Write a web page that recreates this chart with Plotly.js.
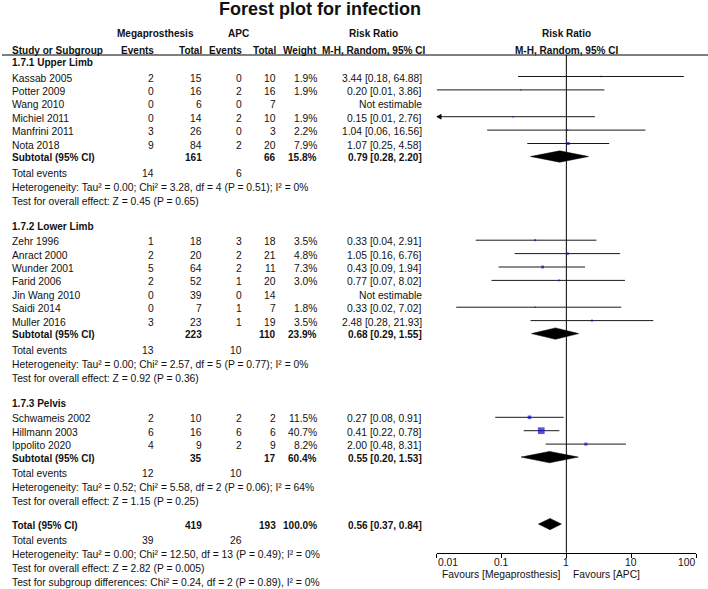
<!DOCTYPE html>
<html>
<head>
<meta charset="utf-8">
<script src="https://cdn.plot.ly/plotly-3.0.1.min.js"></script>
<style>html,body{margin:0;padding:0;background:#fff;}#chart{width:708px;height:589px;}</style>
</head>
<body>
<div id="chart"></div>
<script>
// ---------------- DATA ----------------
const chartTitle = "Forest plot for infection";
const groupNames = ["1.7.1 Upper Limb", "1.7.2 Lower Limb", "1.7.3 Pelvis"];
const studyGroup = [0, 0, 0, 0, 0, 0, 1, 1, 1, 1, 1, 1, 1, 2, 2, 2];
const studyNames = ["Kassab 2005", "Potter 2009", "Wang 2010", "Michiel 2011", "Manfrini 2011", "Nota 2018",
  "Zehr 1996", "Anract 2000", "Wunder 2001", "Farid 2006", "Jin Wang 2010", "Saidi 2014", "Muller 2016",
  "Schwameis 2002", "Hillmann 2003", "Ippolito 2020"];
const megEvents = [2, 0, 0, 0, 3, 9, 1, 2, 5, 2, 0, 0, 3, 2, 6, 4];
const megTotal = [15, 16, 6, 14, 26, 84, 18, 20, 64, 52, 39, 7, 23, 10, 16, 9];
const apcEvents = [0, 2, 0, 2, 0, 2, 3, 2, 2, 1, 0, 1, 1, 2, 6, 2];
const apcTotal = [10, 16, 7, 10, 3, 20, 18, 21, 11, 20, 14, 7, 19, 2, 6, 9];
const weights = [1.9, 1.9, null, 1.9, 2.2, 7.9, 3.5, 4.8, 7.3, 3.0, null, 1.8, 3.5, 11.5, 40.7, 8.2];
const riskRatio = [3.44, 0.20, null, 0.15, 1.04, 1.07, 0.33, 1.05, 0.43, 0.77, null, 0.33, 2.48, 0.27, 0.41, 2.00];
const ciLow = [0.18, 0.01, null, 0.01, 0.06, 0.25, 0.04, 0.16, 0.09, 0.07, null, 0.02, 0.28, 0.08, 0.22, 0.48];
const ciHigh = [64.88, 3.86, null, 2.76, 16.56, 4.58, 2.91, 6.76, 1.94, 8.02, null, 7.02, 21.93, 0.91, 0.78, 8.31];
const truncatedLow = ["Michiel 2011"];

const subMegTotal = [161, 223, 35];
const subApcTotal = [66, 110, 17];
const subWeight = [15.8, 23.9, 60.4];
const subRR = [0.79, 0.68, 0.55];
const subLow = [0.28, 0.29, 0.20];
const subHigh = [2.20, 1.55, 1.53];
const subMegEvents = [14, 13, 12];
const subApcEvents = [6, 10, 10];
const subHeterogeneity = [
  "Heterogeneity: Tau² = 0.00; Chi² = 3.28, df = 4 (P = 0.51); I² = 0%",
  "Heterogeneity: Tau² = 0.00; Chi² = 2.57, df = 5 (P = 0.77); I² = 0%",
  "Heterogeneity: Tau² = 0.52; Chi² = 5.58, df = 2 (P = 0.06); I² = 64%"];
const subEffect = [
  "Test for overall effect: Z = 0.45 (P = 0.65)",
  "Test for overall effect: Z = 0.92 (P = 0.36)",
  "Test for overall effect: Z = 1.15 (P = 0.25)"];

const totalValues = [419, 193];          // Megaprosthesis total, APC total
const totalEventValues = [39, 26];       // Megaprosthesis events, APC events
const totalWeight = [100.0];
const totalEstimate = [0.56, 0.37, 0.84]; // RR, low, high
const totalTexts = [
  "Heterogeneity: Tau² = 0.00; Chi² = 12.50, df = 13 (P = 0.49); I² = 0%",
  "Test for overall effect: Z = 2.82 (P = 0.005)",
  "Test for subgroup differences: Chi² = 0.24, df = 2 (P = 0.89), I² = 0%"];

const tickValues = [0.01, 0.1, 1, 10, 100];
const tickLabels = ["0.01", "0.1", "1", "10", "100"];
const favoursLabels = ["Favours [Megaprosthesis]", "Favours [APC]"];
const nullValue = 1;

// ---------------- LAYOUT HELPERS ----------------
const W = 708, H = 589;
const FONT = "Liberation Sans, Arial, Helvetica, sans-serif";
const FS = 10.3, FS_BOLD = 10.05;
const TXT = "#111";
const AX_L = 436.7, AX_R = 696, AX_Y = 552.7;
const COL = {name: 11, megEv: 155, megTot: 203.3, apcEv: 243.3, apcTot: 277, weight: 318.3, rr: 423.3, rrHead: 373, plotHead: 566.3, meg: 155.8, apc: 238.3};
const MARK_DY = -1.5;

// vertical positions
const rowY = [], headerY = [], subY = [], teY = [], hetY = [], testY = [];
let y = 62.5;
for (let g = 0; g < groupNames.length; g++) {
  if (g > 0) y += 25.2;
  headerY[g] = y;
  y += 15.5;
  const idx = studyGroup.map((v, i) => v === g ? i : -1).filter(i => i >= 0);
  idx.forEach((i, k) => { rowY[i] = y; if (k < idx.length - 1) y += 13.4; });
  y += 12.5; subY[g] = y;
  y += 15.5; teY[g] = y;
  y += 14; hetY[g] = y;
  y += 14; testY[g] = y;
}
y += 23.5; const totalY = y;
const totalTeY = totalY + 15.5, totalHetY = totalTeY + 13.5, totalTestY = totalHetY + 14, totalSubY = totalTestY + 14;

const ann = [];
function txt(str, px, py, anchor, bold, size) {
  const pad = anchor === 'right' ? 1 : (anchor === 'left' ? -1 : 0);
  ann.push({text: bold ? '<b>' + str + '</b>' : str, xref: 'paper', yref: 'paper',
    x: (px + pad) / W, y: 1 - py / H, xanchor: anchor, yanchor: 'middle', showarrow: false,
    font: {family: FONT, size: size || (bold ? FS_BOLD : FS), color: TXT}});
}
const f2 = v => v.toFixed(2);
const ciText = (r, l, h) => f2(r) + " [" + f2(l) + ", " + f2(h) + "]";

// header
txt("Megaprosthesis", COL.meg, 34, 'center', true);
txt("APC", COL.apc, 34, 'center', true);
txt("Risk Ratio", COL.rrHead, 34, 'center', true);
txt("Risk Ratio", COL.plotHead, 34, 'center', true);
txt("Study or Subgroup", COL.name, 50, 'left', true);
txt("Events", COL.megEv, 50, 'right', true);
txt("Total", COL.megTot, 50, 'right', true);
txt("Events", COL.apcEv, 50, 'right', true);
txt("Total", COL.apcTot, 50, 'right', true);
txt("Weight", COL.weight, 50, 'right', true);
txt("M-H, Random, 95% CI", COL.rrHead, 50, 'center', true);
txt("M-H, Random, 95% CI", COL.plotHead, 50, 'center', true);

groupNames.forEach((gName, g) => {
  txt(gName, COL.name, headerY[g], 'left', true);
  txt("Subtotal (95% CI)", COL.name, subY[g], 'left', true);
  txt(String(subMegTotal[g]), COL.megTot, subY[g], 'right', true);
  txt(String(subApcTotal[g]), COL.apcTot, subY[g], 'right', true);
  txt(subWeight[g].toFixed(1) + "%", COL.weight, subY[g], 'right', true);
  txt(ciText(subRR[g], subLow[g], subHigh[g]), COL.rr, subY[g], 'right', true);
  txt("Total events", COL.name, teY[g], 'left', false);
  txt(String(subMegEvents[g]), COL.megEv, teY[g], 'right', false);
  txt(String(subApcEvents[g]), COL.apcEv, teY[g], 'right', false);
  txt(subHeterogeneity[g], COL.name, hetY[g], 'left', false);
  txt(subEffect[g], COL.name, testY[g], 'left', false);
});

studyNames.forEach((s, i) => {
  const yy = rowY[i];
  txt(s, COL.name, yy, 'left');
  txt(String(megEvents[i]), COL.megEv, yy, 'right');
  txt(String(megTotal[i]), COL.megTot, yy, 'right');
  txt(String(apcEvents[i]), COL.apcEv, yy, 'right');
  txt(String(apcTotal[i]), COL.apcTot, yy, 'right');
  if (weights[i] !== null) txt(weights[i].toFixed(1) + "%", COL.weight, yy, 'right');
  txt(riskRatio[i] === null ? "Not estimable" : ciText(riskRatio[i], ciLow[i], ciHigh[i]), COL.rr, yy, 'right');
});

txt("Total (95% CI)", COL.name, totalY, 'left', true);
txt(String(totalValues[0]), COL.megTot, totalY, 'right', true);
txt(String(totalValues[1]), COL.apcTot, totalY, 'right', true);
txt(totalWeight[0].toFixed(1) + "%", COL.weight, totalY, 'right', true);
txt(ciText(totalEstimate[0], totalEstimate[1], totalEstimate[2]), COL.rr, totalY, 'right', true);
txt("Total events", COL.name, totalTeY, 'left');
txt(String(totalEventValues[0]), COL.megEv, totalTeY, 'right');
txt(String(totalEventValues[1]), COL.apcEv, totalTeY, 'right');
txt(totalTexts[0], COL.name, totalHetY, 'left');
txt(totalTexts[1], COL.name, totalTestY, 'left');
txt(totalTexts[2], COL.name, totalSubY, 'left');

// tick labels (through the x axis scale)
tickValues.forEach((v, k) => {
  ann.push({text: tickLabels[k], xref: 'x', yref: 'paper', x: Math.log10(v), y: 1 - 562.3 / H,
    xanchor: k === 0 ? 'left' : (k === tickValues.length - 1 ? 'right' : 'center'), xshift: k === 0 ? -1 : (k === tickValues.length - 1 ? 1 : 0),
    yanchor: 'middle', showarrow: false, font: {family: FONT, size: FS, color: TXT}});
});
txt(favoursLabels[0], 562, 574, 'right');
txt(favoursLabels[1], 571.7, 574, 'left');

// ---------------- TRACES ----------------
const traces = [];
// null line
traces.push({type: 'scatter', mode: 'lines', x: [nullValue, nullValue], y: [55, AX_Y],
  line: {color: '#000', width: 1}, hoverinfo: 'skip'});
// CI lines
const cx = [], cy = [];
studyNames.forEach((s, i) => {
  if (riskRatio[i] === null) return;
  cx.push(ciLow[i], ciHigh[i], null);
  cy.push(rowY[i] + MARK_DY, rowY[i] + MARK_DY, null);
});
traces.push({type: 'scatter', mode: 'lines', x: cx, y: cy, line: {color: '#1a1a1a', width: 1}, hoverinfo: 'skip'});
// truncated arrows
const pxPerDecade = (AX_R - AX_L) / 4;
const ax_ = [], ay_ = [];
studyNames.forEach((s, i) => {
  if (truncatedLow.indexOf(s) < 0) return;
  const tip = ciLow[i], base = tip * Math.pow(10, 4.5 / pxPerDecade), yy = rowY[i] + MARK_DY;
  ax_.push(tip, base, base, tip, null);
  ay_.push(yy, yy - 2.5, yy + 2.5, yy, null);
});
traces.push({type: 'scatter', mode: 'lines', x: ax_, y: ay_, fill: 'toself', fillcolor: '#000',
  line: {color: '#000', width: 0.5}, hoverinfo: 'skip'});
// squares
const sx = [], sy = [], ss = [];
studyNames.forEach((s, i) => {
  if (riskRatio[i] === null) return;
  sx.push(riskRatio[i]); sy.push(rowY[i] + MARK_DY); ss.push(1.05 * Math.sqrt(weights[i]));
});
traces.push({type: 'scatter', mode: 'markers', x: sx, y: sy,
  marker: {symbol: 'square', size: ss, color: '#0b0bd0', line: {width: 0}}, hoverinfo: 'skip'});
// diamonds
const dx = [], dy = [];
const HALF = 5.7;
function diamond(r, l, h, yy) {
  dx.push(l, r, h, r, l, null);
  dy.push(yy, yy - HALF, yy, yy + HALF, yy, null);
}
groupNames.forEach((g, k) => diamond(subRR[k], subLow[k], subHigh[k], subY[k] + MARK_DY + 0.5));
diamond(totalEstimate[0], totalEstimate[1], totalEstimate[2], totalY + MARK_DY + 0.5);
traces.push({type: 'scatter', mode: 'lines', x: dx, y: dy, fill: 'toself', fillcolor: '#000',
  line: {color: '#000', width: 0.5}, hoverinfo: 'skip'});

const layout = {
  width: W, height: H,
  margin: {l: 0, r: 0, t: 0, b: 0, pad: 0},
  paper_bgcolor: '#fff', plot_bgcolor: 'rgba(0,0,0,0)',
  showlegend: false, hovermode: false,
  title: {text: '<b>' + chartTitle + '</b>', x: 320 / W, xanchor: 'center', xref: 'paper',
    y: 1 - 8.5 / H, yref: 'container', yanchor: 'middle',
    font: {family: FONT, size: 18, color: TXT}},
  xaxis: {type: 'log', range: [-2, 2], domain: [AX_L / W, AX_R / W], anchor: 'free', position: 1 - AX_Y / H,
    showline: true, linecolor: '#000', linewidth: 1, ticks: 'outside', ticklen: 4, tickwidth: 1, tickcolor: '#000',
    tickvals: tickValues, ticktext: tickLabels, showticklabels: false, showgrid: false, zeroline: false, fixedrange: true},
  yaxis: {range: [H, 0], domain: [0, 1], visible: false, showgrid: false, zeroline: false, fixedrange: true},
  shapes: [{type: 'line', xref: 'paper', yref: 'paper', x0: 2 / W, x1: 1, y0: 1 - 55 / H, y1: 1 - 55 / H,
    line: {color: '#000', width: 1}}],
  annotations: ann
};
Plotly.newPlot('chart', traces, layout, {staticPlot: true, displayModeBar: false});
</script>
</body>
</html>
